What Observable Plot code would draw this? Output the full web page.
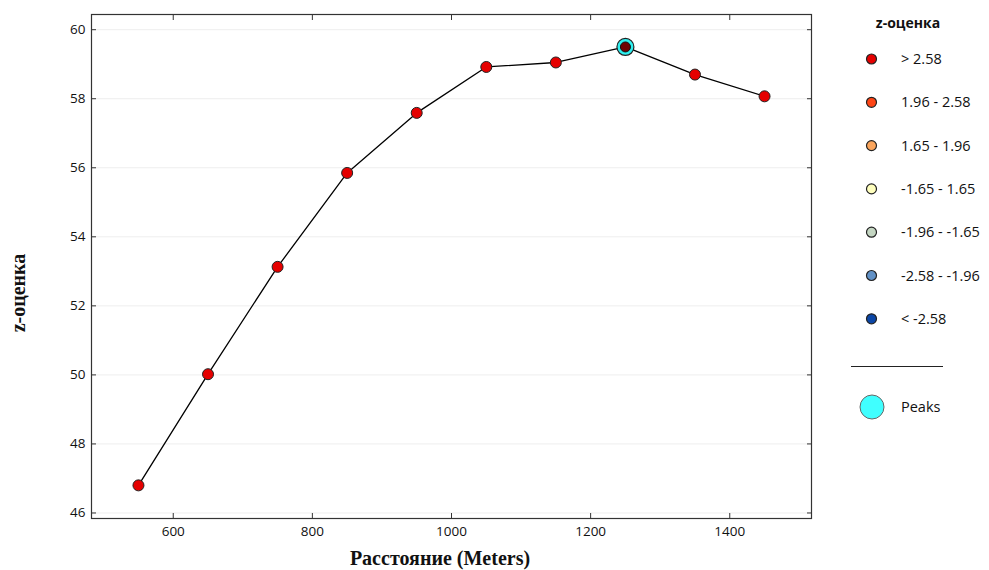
<!DOCTYPE html>
<html>
<head>
<meta charset="utf-8">
<script src="https://cdn.jsdelivr.net/npm/d3@7"></script>
<script src="https://cdn.jsdelivr.net/npm/@observablehq/plot@0.6"></script>
<style>
  html, body { margin: 0; padding: 0; background: #fff; }
  #wrap { position: relative; width: 989px; height: 570px; overflow: hidden; }
  #wrap svg { position: absolute; left: 0; top: 0; }
</style>
</head>
<body>
<div id="wrap"></div>
<script>
// ---- data ----
const distances = [550, 650, 750, 850, 950, 1050, 1150, 1250, 1350, 1450];
const zScores   = [46.8, 50.02, 53.13, 55.85, 57.59, 58.92, 59.05, 59.5, 58.7, 58.07];
const binOf     = [">2.58", ">2.58", ">2.58", ">2.58", ">2.58", ">2.58", ">2.58", ">2.58", ">2.58", ">2.58"];
const peakDistances = [1250];
const xTicks = [600, 800, 1000, 1200, 1400];
const yTicks = [46, 48, 50, 52, 54, 56, 58, 60];
const legendLabels = ["> 2.58", "1.96 - 2.58", "1.65 - 1.96", "-1.65 - 1.65", "-1.96 - -1.65", "-2.58 - -1.96", "< -2.58"];
const legendKeys   = [">2.58", "1.96-2.58", "1.65-1.96", "-1.65-1.65", "-1.96--1.65", "-2.58--1.96", "<-2.58"];
const legendColors = ["#e50000", "#ff4515", "#fba55c", "#ffffbe", "#c4d6c2", "#6191c6", "#0b46a6"];
const legendTitle = "z-оценка";
const peaksLabel = "Peaks";
const xLabel = "Расстояние (Meters)";
const yLabel = "z-оценка";

const rows = distances.map((d, i) => ({distance: d, z: zScores[i], bin: binOf[i]}));
const peaks = rows.filter(r => peakDistances.includes(r.distance));
const colorOf = Object.fromEntries(legendKeys.map((k, i) => [k, legendColors[i]]));

const W = 989, H = 570;
const tickFont = "Open Sans, sans-serif";

const chart = Plot.plot({
  width: W, height: H,
  marginLeft: 91, marginRight: 178, marginTop: 14, marginBottom: 52,
  style: {fontFamily: tickFont, fontSize: "13.5px", color: "#111", background: "transparent"},
  x: {domain: [482.5, 1517.5], ticks: xTicks},
  y: {domain: [45.84, 60.44], ticks: yTicks},
  marks: [
    Plot.gridY(yTicks, {stroke: "#eeeeee", strokeOpacity: 1}),
    // tick labels
    Plot.axisX({anchor: "bottom", ticks: xTicks, tickSize: 0, tickPadding: 8, label: null, tickFormat: d => String(d)}),
    Plot.axisY({anchor: "left", ticks: yTicks, tickSize: 0, tickPadding: 6, label: null}),
    // inward tick marks on all four sides
    Plot.axisX({anchor: "bottom", ticks: xTicks, tickSize: 5, dy: -5, tickFormat: () => "", label: null, stroke: "#333"}),
    Plot.axisX({anchor: "top", ticks: xTicks, tickSize: 5, dy: 5, tickFormat: () => "", label: null, stroke: "#333"}),
    Plot.axisY({anchor: "left", ticks: yTicks, tickSize: 5, dx: 5, tickFormat: () => "", label: null, stroke: "#333"}),
    Plot.axisY({anchor: "right", ticks: yTicks, tickSize: 5, dx: -5, tickFormat: () => "", label: null, stroke: "#333"}),
    Plot.frame({stroke: "#333", strokeWidth: 1.2}),
    Plot.line(rows, {x: "distance", y: "z", stroke: "#000", strokeWidth: 1.3}),
    Plot.dot(peaks, {x: "distance", y: "z", r: 8.5, fill: "#2ff0f0", stroke: "#222", strokeWidth: 1.2}),
    Plot.dot(rows.filter(r => !peakDistances.includes(r.distance)), {x: "distance", y: "z", r: 5.5, fill: d => colorOf[d.bin], stroke: "#222", strokeWidth: 1}),
    Plot.dot(peaks, {x: "distance", y: "z", r: 5, fill: "#6e0303", stroke: "#111", strokeWidth: 1})
  ]
});
document.getElementById("wrap").appendChild(chart);

// axis titles
const svg = d3.select(chart);
svg.append("text")
  .attr("x", 440).attr("y", 565)
  .attr("text-anchor", "middle")
  .style("font-family", "Liberation Serif, Times New Roman, serif")
  .style("font-weight", "bold").style("font-size", "20px").attr("fill", "#111")
  .text(xLabel);
svg.append("text")
  .attr("transform", "translate(25,293) rotate(-90)")
  .attr("text-anchor", "middle")
  .style("font-family", "Liberation Serif, Times New Roman, serif")
  .style("font-weight", "bold").style("font-size", "20px").attr("fill", "#111")
  .text(yLabel);

// legend
const leg = d3.select("#wrap").append("svg")
  .attr("width", W).attr("height", H)
  .style("pointer-events", "none");
leg.append("text")
  .attr("x", 908).attr("y", 28).attr("text-anchor", "middle")
  .style("font-family", tickFont).style("font-weight", "bold").style("font-size", "14px").attr("fill", "#111")
  .text(legendTitle);
legendLabels.forEach((lab, i) => {
  const cy = 59 + i * 43.3;
  leg.append("circle").attr("cx", 871.5).attr("cy", cy).attr("r", 5)
    .attr("fill", legendColors[i]).attr("stroke", "#222").attr("stroke-width", 1.2);
  leg.append("text").attr("x", 901).attr("y", cy + 5)
    .style("font-family", tickFont).style("font-size", "14.5px").attr("fill", "#111")
    .text(lab);
});
leg.append("line").attr("x1", 851).attr("x2", 943).attr("y1", 366.5).attr("y2", 366.5)
  .attr("stroke", "#222").attr("stroke-width", 1);
leg.append("circle").attr("cx", 872).attr("cy", 407).attr("r", 12)
  .attr("fill", "#40ffff").attr("stroke", "#666").attr("stroke-width", 1);
leg.append("text").attr("x", 901).attr("y", 412)
  .style("font-family", tickFont).style("font-size", "14.5px").attr("fill", "#111")
  .text(peaksLabel);
</script>
</body>
</html>
